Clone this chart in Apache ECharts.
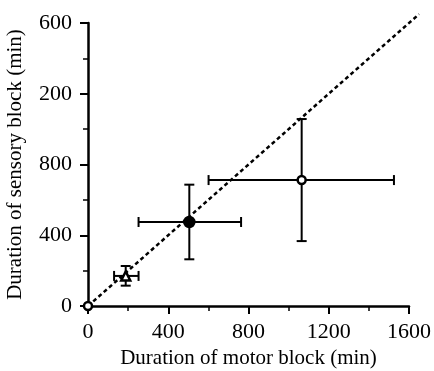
<!DOCTYPE html>
<html>
<head>
<meta charset="utf-8">
<script src="https://cdn.jsdelivr.net/npm/echarts@6/dist/echarts.min.js"></script>
<style>
  html, body { margin: 0; padding: 0; background: #fff; }
  #chart { width: 434px; height: 371px; }
</style>
</head>
<body>
<div id="chart"></div>
<script>
// group means and their ranges (min)
const motorMean = [0, 188, 505, 1065];
const sensoryMean = [0, 170, 475, 712];
const motorLow = [0, 130, 252, 601];
const motorHigh = [0, 252, 763, 1525];
const sensoryLow = [0, 115, 264, 367];
const sensoryHigh = [0, 226, 686, 1057];
const markerShapes = ['circle', 'triangle', 'circle', 'circle'];
const markerFilled = [false, false, true, false];

const xTicks = [0, 400, 800, 1200, 1600];
const yTicks = [0, 400, 800, 1200, 1600];
const yTickLabels = ['0', '400', '800', '200', '600'];
const identityLine = [[0, 0], [1650, 1650]];

const chartDom = document.getElementById('chart');
const chart = echarts.init(chartDom);

const font = 'Liberation Serif';

const errorBars = motorMean.map((x, i) => [x, sensoryMean[i], motorLow[i], motorHigh[i], sensoryLow[i], sensoryHigh[i]]);

const option = {
  animation: false,
  grid: { left: 88, right: 25, top: 23, bottom: 65, outerBoundsMode: 'none', containLabel: false },
  xAxis: {
    type: 'value',
    min: 0,
    max: 1600,
    interval: 400,
    name: 'Duration of motor block (min)',
    nameLocation: 'middle',
    nameGap: 38,
    nameTextStyle: { fontFamily: font, fontSize: 21, color: '#000' },
    axisLine: { onZero: false, lineStyle: { color: '#000', width: 2.5 } },
    axisTick: { length: 8, lineStyle: { color: '#000', width: 2 } },
    minorTick: { show: true, splitNumber: 2, length: 5, lineStyle: { color: '#000', width: 1.5 } },
    axisLabel: { fontFamily: font, fontSize: 22, color: '#000', margin: 15,
      formatter: (v) => (xTicks.includes(v) ? String(v) : '') },
    splitLine: { show: false }
  },
  yAxis: {
    type: 'value',
    min: 0,
    max: 1600,
    interval: 400,
    name: 'Duration of sensory block (min)',
    nameLocation: 'middle',
    nameGap: 62,
    nameTextStyle: { fontFamily: font, fontSize: 21, color: '#000' },
    axisLine: { onZero: false, lineStyle: { color: '#000', width: 2.5 } },
    axisTick: { length: 8, lineStyle: { color: '#000', width: 2 } },
    minorTick: { show: true, splitNumber: 2, length: 5, lineStyle: { color: '#000', width: 1.5 } },
    axisLabel: { fontFamily: font, fontSize: 22, color: '#000', margin: 16,
      formatter: (v) => {
        const i = yTicks.indexOf(v);
        return i >= 0 ? yTickLabels[i] : '';
      } },
    splitLine: { show: false }
  },
  series: [
    {
      // line of identity, drawn past the axis end
      type: 'custom',
      data: [identityLine[0].concat(identityLine[1])],
      clip: false,
      z: 1,
      renderItem: (params, api) => {
        const a = api.coord([api.value(0), api.value(1)]);
        const b = api.coord([api.value(2), api.value(3)]);
        return {
          type: 'line',
          shape: { x1: a[0], y1: a[1], x2: b[0], y2: b[1] },
          style: { stroke: '#000', lineWidth: 2.5, lineDash: [4, 3] }
        };
      }
    },
    {
      type: 'custom',
      data: errorBars,
      clip: false,
      z: 2,
      renderItem: (params, api) => {
        const x = api.value(0), y = api.value(1);
        const xl = api.value(2), xh = api.value(3), yl = api.value(4), yh = api.value(5);
        if (xl === xh && yl === yh) return null;
        const c = api.coord([x, y]);
        const pL = api.coord([xl, y]), pR = api.coord([xh, y]);
        const pB = api.coord([x, yl]), pT = api.coord([x, yh]);
        const cap = 5;
        const style = { stroke: '#000', lineWidth: 2 };
        const ln = (x1, y1, x2, y2) => ({ type: 'line', shape: { x1, y1, x2, y2 }, style });
        return {
          type: 'group',
          children: [
            ln(pL[0], c[1], pR[0], c[1]),
            ln(pL[0], c[1] - cap, pL[0], c[1] + cap),
            ln(pR[0], c[1] - cap, pR[0], c[1] + cap),
            ln(c[0], pB[1], c[0], pT[1]),
            ln(c[0] - cap, pB[1], c[0] + cap, pB[1]),
            ln(c[0] - cap, pT[1], c[0] + cap, pT[1])
          ]
        };
      }
    },
    {
      type: 'scatter',
      clip: false,
      z: 3,
      data: motorMean.map((x, i) => ({
        value: [x, sensoryMean[i]],
        symbol: markerShapes[i],
        symbolSize: markerFilled[i] ? 10 : (markerShapes[i] === 'triangle' ? 9 : 8),
        itemStyle: {
          color: markerFilled[i] ? '#000' : '#fff',
          borderColor: '#000',
          borderWidth: 2.5,
          opacity: 1
        }
      }))
    }
  ]
};

chart.setOption(option);
</script>
</body>
</html>
